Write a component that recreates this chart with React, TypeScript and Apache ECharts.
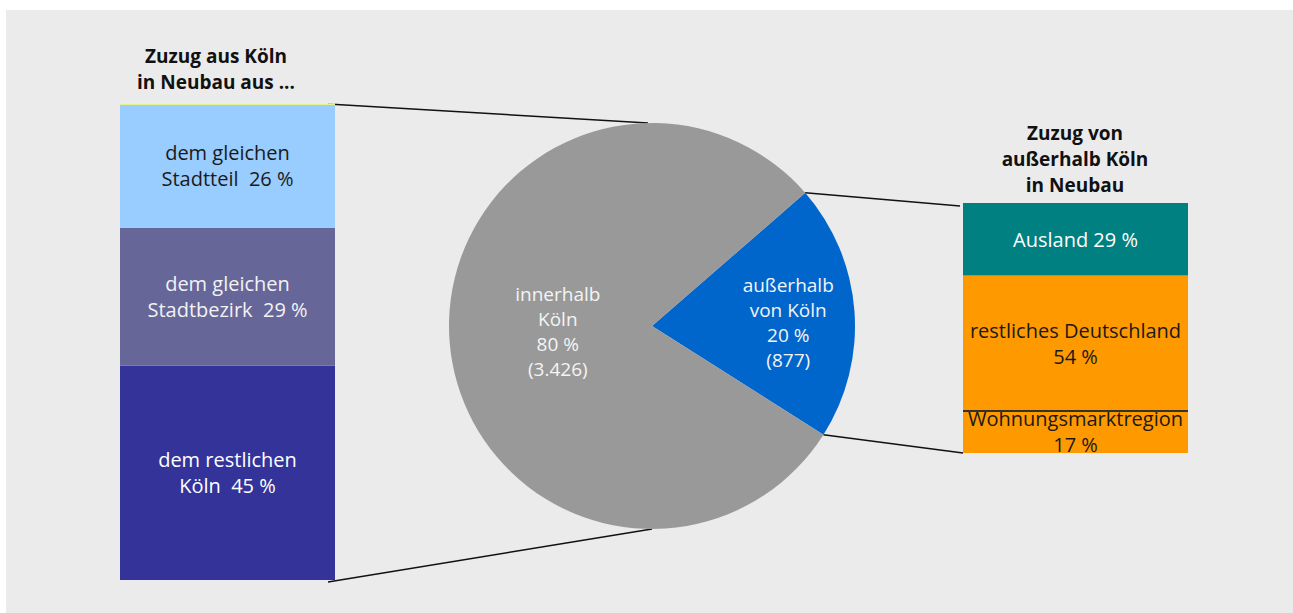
import React, { useEffect, useRef } from 'react';
import * as echarts from 'echarts';

const leftTitle = 'Zuzug aus Köln\nin Neubau aus ...';
const rightTitle = 'Zuzug von\naußerhalb Köln\nin Neubau';

// left stacked bar (bottom -> top)
const leftCategories = ['dem restlichen\nKöln', 'dem gleichen\nStadtbezirk', 'dem gleichen\nStadtteil'];
const leftShares = [45, 29, 26];

// right stacked bar (bottom -> top)
const rightCategories = ['Wohnungsmarktregion', 'restliches Deutschland', 'Ausland'];
const rightShares = [17, 54, 29];
const rightSeparators = ['\n', '\n', ' '];

// pie
const pieNames = ['außerhalb\nvon Köln', 'innerhalb\nKöln'];
const pieShares = [20, 80];
const pieCounts = [877, 3426];

const FONT = '"Open Sans", "Noto Sans", sans-serif';

function fmtDe(n: number): string {
  return String(n).replace(/\B(?=(\d{3})+(?!\d))/g, '.');
}

export default function App() {
  const ref = useRef<HTMLDivElement>(null);
  useEffect(() => {
    document.body.style.margin = '0';
    const chart = echarts.init(ref.current!, null, { renderer: 'svg' });

    const leftGrid = { left: 120, top: 104, width: 215, height: 476 };
    const rightGrid = { left: 963, top: 203, width: 225, height: 250 };
    const pieCenter = [652, 326];
    const pieR = 203;
    const startAngle = 41;

    const leftColors = ['#333399', '#666699', '#99ccff'];
    const leftText = ['#ffffff', '#f2f2f2', '#1a1a1a'];
    const rightColors = ['#ff9900', '#ff9900', '#008080'];
    const rightText = ['#1a1a1a', '#1a1a1a', '#ffffff'];

    const labelBase = { fontFamily: FONT, fontSize: 20, lineHeight: 26 };

    const leftSeries = leftCategories.map((name, i) => ({
      type: 'bar',
      name,
      stack: 'left',
      xAxisIndex: 0,
      yAxisIndex: 0,
      barWidth: '100%',
      data: [leftShares[i]],
      silent: true,
      itemStyle: { color: leftColors[i] },
      label: {
        show: true,
        position: 'inside',
        formatter: `${name}  ${leftShares[i]} %`,
        color: leftText[i],
        ...labelBase,
      },
      markLine:
        i === leftCategories.length - 1
          ? {
              silent: true,
              symbol: 'none',
              label: { show: false },
              lineStyle: { color: '#ffff66', width: 1.5, type: 'solid' },
              data: [{ yAxis: 100 }],
            }
          : undefined,
    }));

    const rightSeries = rightCategories.map((name, i) => ({
      type: 'bar',
      name,
      stack: 'right',
      xAxisIndex: 1,
      yAxisIndex: 1,
      barWidth: '100%',
      data: [rightShares[i]],
      silent: true,
      itemStyle: { color: rightColors[i] },
      label: {
        show: true,
        position: 'inside',
        formatter: `${name}${rightSeparators[i]}${rightShares[i]} %`,
        color: rightText[i],
        ...labelBase,
      },
      markLine:
        i === 0
          ? {
              silent: true,
              symbol: 'none',
              label: { show: false },
              lineStyle: { color: '#333333', width: 2, type: 'solid' },
              data: [{ yAxis: rightShares[0] }],
            }
          : undefined,
    }));

    const pieSeries = {
      type: 'pie',
      center: pieCenter,
      radius: pieR,
      startAngle,
      clockwise: true,
      silent: true,
      data: pieNames.map((name, i) => ({
        name,
        value: pieCounts[i],
        itemStyle: { color: i === 0 ? '#0066cc' : '#999999' },
      })),
      label: {
        show: true,
        position: 'inside',
        color: '#f4f4f4',
        fontFamily: FONT,
        fontSize: 19,
        lineHeight: 25,
        formatter: (p: any) => `${p.name}\n${pieShares[p.dataIndex]} %\n(${fmtDe(pieCounts[p.dataIndex])})`,
      },
      labelLine: { show: false },
      labelLayout: (p: any) => (p.dataIndex === 0 ? { dx: 16, dy: 2 } : { dx: 5, dy: -1 }),
    };

    const titleStyle = {
      fontFamily: FONT,
      fontSize: 19,
      fontWeight: 'bold',
      lineHeight: 26,
      fill: '#111111',
      align: 'center',
      verticalAlign: 'top',
    };

    chart.setOption({
      animation: false,
      grid: [leftGrid, rightGrid],
      xAxis: [
        { gridIndex: 0, type: 'category', data: ['a'], show: false },
        { gridIndex: 1, type: 'category', data: ['b'], show: false },
      ],
      yAxis: [
        { gridIndex: 0, type: 'value', min: 0, max: 100, show: false, splitLine: { show: false } },
        { gridIndex: 1, type: 'value', min: 0, max: 100, show: false, splitLine: { show: false } },
      ],
      series: [...leftSeries, ...rightSeries, pieSeries],
      graphic: [
        {
          id: 'bg',
          type: 'rect',
          silent: true,
          z: -10,
          shape: { x: 6, y: 10, width: 1287, height: 603 },
          style: { fill: '#ebebeb' },
        },
        { id: 't1', type: 'text', x: 216, y: 43, style: { text: leftTitle, ...titleStyle } },
        { id: 't2', type: 'text', x: 1075, y: 120, style: { text: rightTitle, ...titleStyle } },
      ],
    });

    // connectors computed from scales / pie geometry
    const lTop = chart.convertToPixel({ yAxisIndex: 0 } as any, 100) as number;
    const lBot = chart.convertToPixel({ yAxisIndex: 0 } as any, 0) as number;
    const rTop = chart.convertToPixel({ yAxisIndex: 1 } as any, 100) as number;
    const rBot = chart.convertToPixel({ yAxisIndex: 1 } as any, 0) as number;
    const total = pieCounts.reduce((a, b) => a + b, 0);
    const pt = (deg: number) => {
      const r = (deg * Math.PI) / 180;
      return [pieCenter[0] + pieR * Math.cos(r), pieCenter[1] - pieR * Math.sin(r)];
    };
    const pTop = pt(90);
    const pBot = pt(-90);
    const pA = pt(startAngle);
    const pB = pt(startAngle - (360 * pieCounts[0]) / total);
    const lx = leftGrid.left + leftGrid.width - 7;
    const rx = rightGrid.left;
    const lineStyle = { stroke: '#111111', lineWidth: 1.5 };
    chart.setOption({
      graphic: [
        { id: 'c1', type: 'line', silent: true, shape: { x1: lx, y1: lTop, x2: pTop[0] - 4, y2: pTop[1] }, style: lineStyle },
        { id: 'c2', type: 'line', silent: true, shape: { x1: lx, y1: lBot + 2, x2: pBot[0], y2: pBot[1] }, style: lineStyle },
        { id: 'c3', type: 'line', silent: true, shape: { x1: pA[0], y1: pA[1], x2: rx - 3, y2: rTop + 3 }, style: lineStyle },
        { id: 'c4', type: 'line', silent: true, shape: { x1: pB[0], y1: pB[1], x2: rx, y2: rBot }, style: lineStyle },
      ],
    });

    return () => chart.dispose();
  }, []);
  return <div ref={ref} style={{ width: 1293, height: 613 }} />;
}
